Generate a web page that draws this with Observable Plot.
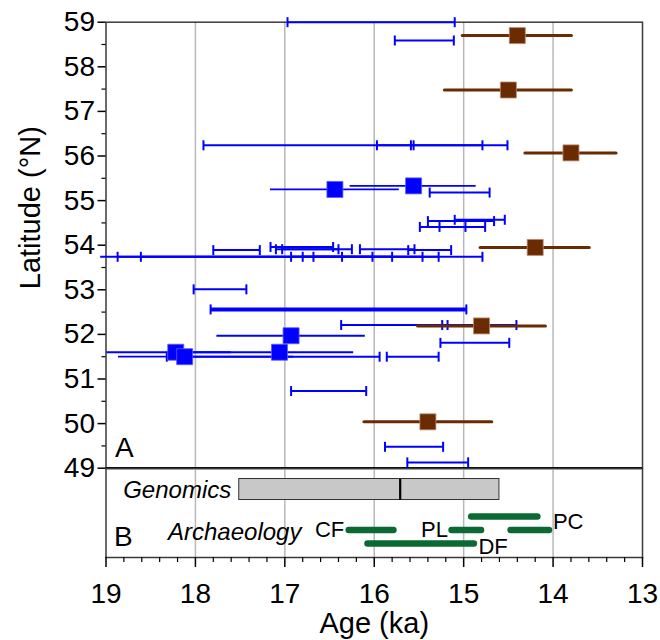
<!DOCTYPE html>
<html><head><meta charset="utf-8">
<script src="https://cdn.jsdelivr.net/npm/d3@7"></script>
<script src="https://cdn.jsdelivr.net/npm/@observablehq/plot@0.6"></script>
<style>
html,body{margin:0;padding:0;background:#fff;}
#chart svg{display:block;}
</style></head><body><div id="chart"></div>
<script>
// ---------- Panel A data ----------
// Blue dated records with error bars (age in ka, older end / younger end) and latitude
const blueOld   = [16.97, 15.77, 17.91, 15.97, 15.59, 15.38, 15.40, 15.10, 15.49, 15.27,
                   17.80, 17.16, 17.10, 17.03, 16.16, 15.62,
                   19.06, 18.87, 18.61, 16.93, 16.80, 16.68,
                   18.02, 16.37, 15.24, 15.26, 18.32, 15.86, 16.93, 15.88, 15.63];
const blueYoung = [15.10, 15.11, 15.56, 14.51, 14.79, 14.71, 14.66, 14.54, 14.98, 14.76,
                   17.28, 16.46, 16.40, 16.25, 15.55, 15.14,
                   16.36, 16.02, 15.80, 15.46, 15.28, 14.79,
                   17.43, 15.18, 14.41, 14.49, 15.94, 15.28, 16.09, 15.23, 14.95];
const blueLat   = [59.00, 58.59, 56.24, 56.24, 56.24, 55.18, 54.54, 54.57, 54.41, 54.41,
                   53.89, 53.96, 53.91, 53.91, 53.91, 53.89,
                   53.74, 53.74, 53.74, 53.74, 53.74, 53.74,
                   53.01, 52.21, 52.21, 51.81, 51.50, 51.50, 50.73, 49.48, 49.13];
// Heavy blue record
const heavyOld = [17.83];
const heavyYoung = [14.97];
const heavyLat = [52.56];
// Blue square records
const sqAge   = [16.44, 15.56, 16.93, 18.22, 17.06, 18.12];
const sqLat   = [55.25, 55.33, 51.97, 51.60, 51.60, 51.50];
const sqOld   = [17.16, 16.27, 17.76, 18.99, 18.20, 18.86];
const sqYoung = [15.72, 14.86, 16.10, 17.60, 16.23, 16.90];
// Brown square records
const brAge   = [14.40, 14.50, 13.80, 14.20, 14.80, 15.40];
const brLat   = [58.70, 57.48, 56.07, 53.95, 52.19, 50.04];
const brOld   = [15.01, 15.21, 14.31, 14.81, 15.51, 16.11];
const brYoung = [13.79, 13.79, 13.29, 13.59, 14.08, 14.68];

// ---------- Panel B data ----------
const genomicsOld = 17.51, genomicsYoung = 14.60, genomicsMid = 15.71;
const archSite  = ["CF", "DF", "PL", "PC", "PC"];
const archOld   = [16.28, 16.07, 15.13, 14.91, 14.47];
const archYoung = [15.78, 14.88, 14.80, 14.17, 14.04];
const archRow   = ["middle", "lower", "middle", "upper", "middle"];

// ---------- Axes ----------
const latTicks = [49, 50, 51, 52, 53, 54, 55, 56, 57, 58, 59];
const latMinor = [49.5, 50.5, 51.5, 52.5, 53.5, 54.5, 55.5, 56.5, 57.5, 58.5];
const ageTicks = [19, 18, 17, 16, 15, 14, 13];
const gridAges = [18, 17, 16, 15, 14];
const ageMinor = d3.range(13, 19.001, 0.2).map(v => +v.toFixed(1)).filter(v => !Number.isInteger(v));

// ---------- styling ----------
const FONT = "'Liberation Sans', Arial, Helvetica, sans-serif";
const BLUE = "#0000ff", BROWN = "#6b2b00", GREEN = "#0b6a33", GRID = "#b8b8b8", FRAME = "#3a3a3a";
const rowPos = {Genomics: 0, upper: 2, middle: 3, lower: 4};
const sym = fn => ({draw(ctx, size) { const r = Math.sqrt(size / Math.PI); fn(ctx, r); }});
const capSymbol = sym((c, r) => { c.moveTo(0, -r); c.lineTo(0, r); });
const squareSymbol = sym((c, r) => { c.rect(-r, -r, 2 * r, 2 * r); });

const blueBars = blueOld.map((o, i) => ({old: o, young: blueYoung[i], lat: blueLat[i]}));
const heavyBars = heavyOld.map((o, i) => ({old: o, young: heavyYoung[i], lat: heavyLat[i]}));
const caps = [...blueBars, ...heavyBars].flatMap(d =>
  [d.old, d.young].filter(v => v <= 19 && v >= 13).map(v => ({x: v, lat: d.lat})));
const blueSq = sqAge.map((a, i) => ({age: a, lat: sqLat[i], old: sqOld[i], young: sqYoung[i]}));
const brown = brAge.map((a, i) => ({age: a, lat: brLat[i], old: brOld[i], young: brYoung[i]}));
const arch = archSite.map((s, i) => ({site: s, old: archOld[i], young: archYoung[i], row: rowPos[archRow[i]]}));
const genomics = [{old: genomicsOld, young: genomicsYoung, mid: genomicsMid, row: rowPos.Genomics}];

// label placement for site names (which end of which bar)
const labelFor = {
  CF: {end: "old", anchor: "end", dx: -5, dy: 0},
  PL: {end: "old", anchor: "end", dx: -4, dy: 0},
  DF: {end: "young", anchor: "start", dx: 4, dy: 3},
  PC: {end: "young", anchor: "start", dx: 15, dy: 5}
};
const siteLabels = Object.keys(labelFor).map(s => {
  const d = arch.find(a => a.site === s);
  const L = labelFor[s];
  return {site: s, x: d[L.end], row: d.row, anchor: L.anchor, dx: L.dx, dy: L.dy};
});

const common = {
  width: 660, marginLeft: 105.5, marginRight: 18,
  style: {fontFamily: FONT, fontSize: "28px", background: "transparent", overflow: "visible", color: "#000"}
};

const plotA = Plot.plot({
  ...common,
  height: 468, marginTop: 21.7, marginBottom: 0.3,
  x: {domain: [19, 13], axis: null},
  y: {domain: [49, 59]},
  marks: [
    Plot.ruleX(gridAges, {stroke: GRID, strokeWidth: 1.5}),
    Plot.frame({stroke: FRAME, strokeWidth: 1.5}),
    Plot.ruleY([49], {stroke: "#000", strokeWidth: 2.2}),
    Plot.axisY({ticks: latTicks, tickSize: 8, tickPadding: 3, fontSize: 28, strokeWidth: 1.5, tickFormat: d3.format("d"), label: null}),
    Plot.axisY({ticks: latMinor, tickSize: 4, tickFormat: () => "", strokeWidth: 1.2, label: null}),
    Plot.text(["Latitude (°N)"], {frameAnchor: "left", rotate: -90, dx: -75, dy: 44, fontSize: 29}),
    Plot.ruleY(blueBars, {y: "lat", x1: "old", x2: "young", stroke: BLUE, strokeWidth: 2}),
    Plot.ruleY(heavyBars, {y: "lat", x1: "old", x2: "young", stroke: BLUE, strokeWidth: 4}),
    Plot.dot(caps, {x: "x", y: "lat", symbol: capSymbol, r: 5, fill: "none", stroke: BLUE, strokeWidth: 2}),
    Plot.ruleY(blueSq, {y: "lat", x1: "old", x2: "young", stroke: BLUE, strokeWidth: 1.8}),
    Plot.dot(blueSq, {x: "age", y: "lat", symbol: squareSymbol, r: 8, fill: BLUE, stroke: "#5a5aff", strokeWidth: 0.8}),
    Plot.ruleY(brown, {y: "lat", x1: "old", x2: "young", stroke: BROWN, strokeWidth: 3, strokeLinecap: "round"}),
    Plot.dot(brown, {x: "age", y: "lat", symbol: squareSymbol, r: 8, fill: BROWN, stroke: "#b88a70", strokeWidth: 0.8}),
    Plot.text(["A"], {frameAnchor: "bottom-left", dx: 9, dy: -20, textAnchor: "start", lineAnchor: "middle", fontSize: 28})
  ]
});

const plotB = Plot.plot({
  ...common,
  height: 172, marginTop: 0, marginBottom: 83,
  x: {domain: [19, 13]},
  y: {domain: [-1.556, 5.037], reverse: true, axis: null},
  marks: [
    Plot.ruleX(gridAges, {stroke: GRID, strokeWidth: 1.5}),
    Plot.frame({stroke: FRAME, strokeWidth: 1.5}),
    Plot.rect(genomics, {x1: "old", x2: "young", y1: "row", y2: "row", insetTop: -10.5, insetBottom: -10.5, fill: "#c8c8c8", stroke: "#333", strokeWidth: 1}),
    Plot.dot(genomics, {x: "mid", y: "row", symbol: capSymbol, r: 10.5, stroke: "#000", strokeWidth: 2.2}),
    Plot.text(genomics, {x: "old", y: "row", text: () => "Genomics", dx: -8, dy: 1, textAnchor: "end", fontSize: 24, fontStyle: "italic"}),
    Plot.ruleY(arch, {y: "row", x1: "old", x2: "young", stroke: GREEN, strokeWidth: 6.5, strokeLinecap: "round"}),
    ...siteLabels.map(l => Plot.text([l], {x: "x", y: "row", text: "site", textAnchor: l.anchor, dx: l.dx, dy: l.dy, fontSize: 22})),
    Plot.text([{t: "Archaeology", row: rowPos.middle}], {y: "row", text: "t", frameAnchor: "left", dx: 62, dy: 2, textAnchor: "start", fontSize: 24, fontStyle: "italic"}),
    Plot.text(["B"], {frameAnchor: "bottom-left", dx: 8, dy: -20.5, textAnchor: "start", lineAnchor: "middle", fontSize: 28}),
    Plot.axisX({ticks: ageTicks, tickSize: 10, tickPadding: 16, fontSize: 28, strokeWidth: 1.5, tickFormat: d3.format("d"), label: null}),
    Plot.axisX({ticks: ageMinor, tickSize: 5, tickFormat: () => "", strokeWidth: 1.2, label: null}),
    Plot.text(["Age (ka)"], {frameAnchor: "bottom", dy: 66, lineAnchor: "middle", fontSize: 29})
  ]
});

document.getElementById("chart").append(plotA, plotB);
</script>
</body></html>
